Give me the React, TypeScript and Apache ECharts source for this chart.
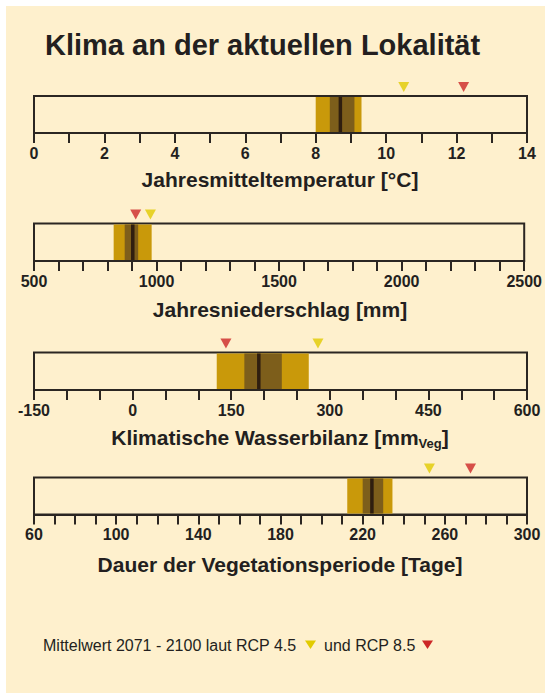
import React, { useEffect, useRef } from "react";
import * as echarts from "echarts";

// ---- data ----
const panelTitles = [
  "Jahresmitteltemperatur [°C]",
  "Jahresniederschlag [mm]",
  "Klimatische Wasserbilanz [mm{sub|Veg}]",
  "Dauer der Vegetationsperiode [Tage]",
];
const axisMin = [0, 500, -150, 60];
const axisMax = [14, 2500, 600, 300];
const tickStep = [1, 100, 50, 10];
const labelStep = [2, 500, 150, 40];

const outerLow = [8.0, 825, 128, 212.5];
const outerHigh = [9.3, 980, 268, 234.5];
const innerLow = [8.4, 870, 170, 220];
const innerHigh = [9.1, 925, 227, 230];
const meanValue = [8.7, 903, 192, 224.5];
const rcp45 = [10.5, 975, 282, 252.5];
const rcp85 = [12.2, 915, 142, 272.5];

const chartTitle = "Klima an der aktuellen Lokalität";
const legendText1 = "Mittelwert 2071 - 2100 laut RCP 4.5";
const legendText2 = "und RCP 8.5";

// ---- styles ----
const BG = "#FEF0CD";
const INK = "#231F20";
const BORDER = "#2B2622";
const LIGHT = "#C9990A";
const DARK = "#7D5E1B";
const MEAN = "#2F1E0F";
const YELLOW = "#E1CB00";
const RED = "#CC2727";
const FONT = '"Liberation Sans", Arial, Helvetica, sans-serif';

const gridTop = [96, 223.5, 352.5, 477.5];
const gridHeight = [37, 37.5, 37.5, 37];
const titleY = [179, 309, 437, 564];

export default function App() {
  const ref = useRef<HTMLDivElement>(null);

  useEffect(() => {
    if (!ref.current) return;
    const chart = echarts.init(ref.current, undefined, { renderer: "svg" });
    const idx = [0, 1, 2, 3];

    const bandRender = (params: any, api: any) => {
      const lo = api.coord([api.value(0), 0]);
      const hi = api.coord([api.value(1), 1]);
      const color = api.value(2) === 1 ? DARK : LIGHT;
      return {
        type: "rect",
        shape: {
          x: lo[0],
          y: hi[1] + 1,
          width: hi[0] - lo[0],
          height: lo[1] - hi[1] - 2,
        },
        style: { fill: color },
      };
    };
    const meanRender = (params: any, api: any) => {
      const lo = api.coord([api.value(0), 0]);
      const hi = api.coord([api.value(0), 1]);
      return {
        type: "rect",
        shape: {
          x: lo[0] - 1.75,
          y: hi[1] + 1,
          width: 3.5,
          height: lo[1] - hi[1] - 2,
        },
        style: { fill: MEAN },
      };
    };

    const series: any[] = [];
    idx.forEach((i) => {
      series.push({
        type: "custom",
        xAxisIndex: i,
        yAxisIndex: i,
        renderItem: bandRender,
        data: [
          [outerLow[i], outerHigh[i], 0],
          [innerLow[i], innerHigh[i], 1],
        ],
        encode: { x: [0, 1] },
        z: 2,
      });
      series.push({
        type: "custom",
        xAxisIndex: i,
        yAxisIndex: i,
        renderItem: meanRender,
        data: [[meanValue[i]]],
        encode: { x: 0 },
        z: 3,
      });
      series.push({
        type: "scatter",
        xAxisIndex: i,
        yAxisIndex: i,
        clip: false,
        symbol: "triangle",
        symbolRotate: 180,
        symbolSize: [11, 10],
        symbolOffset: [0, -9],
        itemStyle: { color: YELLOW },
        data: [[rcp45[i], 1]],
        z: 4,
      });
      series.push({
        type: "scatter",
        xAxisIndex: i,
        yAxisIndex: i,
        clip: false,
        symbol: "triangle",
        symbolRotate: 180,
        symbolSize: [11, 10],
        symbolOffset: [0, -9],
        itemStyle: { color: RED },
        data: [[rcp85[i], 1]],
        z: 4,
      });
    });

    const graphics: any[] = [
      {
        type: "text",
        x: 45,
        y: 45,
        style: {
          text: chartTitle,
          fontSize: 29,
          fontWeight: "bold",
          fontFamily: FONT,
          fill: INK,
          verticalAlign: "middle",
        },
      },
      ...idx.map((i) => ({
        type: "text",
        x: 280,
        y: titleY[i],
        style: {
          text: panelTitles[i],
          fontSize: 21,
          fontWeight: "bold",
          fontFamily: FONT,
          fill: INK,
          align: "center",
          verticalAlign: "middle",
          rich: {
            sub: {
              fontSize: 13,
              fontWeight: "bold",
              fontFamily: FONT,
              fill: INK,
              padding: [12, 0, 0, 0],
            },
          },
        },
      })),
      {
        type: "text",
        x: 43,
        y: 645,
        style: {
          text: legendText1,
          fontSize: 16,
          fontFamily: FONT,
          fill: INK,
          verticalAlign: "middle",
        },
      },
      {
        type: "polygon",
        shape: { points: [[305, 640.5], [316, 640.5], [310.5, 649]] },
        style: { fill: YELLOW },
      },
      {
        type: "text",
        x: 324,
        y: 645,
        style: {
          text: legendText2,
          fontSize: 16,
          fontFamily: FONT,
          fill: INK,
          verticalAlign: "middle",
        },
      },
      {
        type: "polygon",
        shape: { points: [[422, 640.5], [433, 640.5], [427.5, 649]] },
        style: { fill: RED },
      },
    ];

    chart.setOption({
      animation: false,
      backgroundColor: "transparent",
      textStyle: { fontFamily: FONT },
      grid: idx.map((i) => ({
        left: 34,
        right: 18,
        top: gridTop[i],
        height: gridHeight[i],
        show: true,
        borderColor: BORDER,
        borderWidth: 2,
        backgroundColor: "transparent",
      })),
      xAxis: idx.map((i) => ({
        type: "value",
        gridIndex: i,
        min: axisMin[i],
        max: axisMax[i],
        interval: tickStep[i],
        axisLine: { show: true, onZero: false, lineStyle: { color: BORDER, width: 2 } },
        axisTick: { show: true, length: 10, lineStyle: { color: BORDER, width: 2 } },
        axisLabel: {
          show: true,
          margin: 12,
          fontSize: 16,
          fontWeight: "bold",
          fontFamily: FONT,
          color: INK,
          showMinLabel: true,
          showMaxLabel: true,
          formatter: (v: number) =>
            Math.abs((v - axisMin[i]) % labelStep[i]) < 1e-9 ? String(v) : "",
        },
        splitLine: { show: false },
      })),
      yAxis: idx.map((i) => ({
        type: "value",
        gridIndex: i,
        min: 0,
        max: 1,
        show: false,
      })),
      series,
      graphic: graphics,
    });

    return () => chart.dispose();
  }, []);

  return (
    <div style={{ position: "absolute", left: 0, top: 0, width: 545, height: 693, background: "#ffffff" }}>
      <div style={{ position: "absolute", left: 6, top: 6, width: 539, height: 687, background: BG }} />
      <div ref={ref} style={{ position: "absolute", left: 0, top: 0, width: 545, height: 693 }} />
    </div>
  );
}
